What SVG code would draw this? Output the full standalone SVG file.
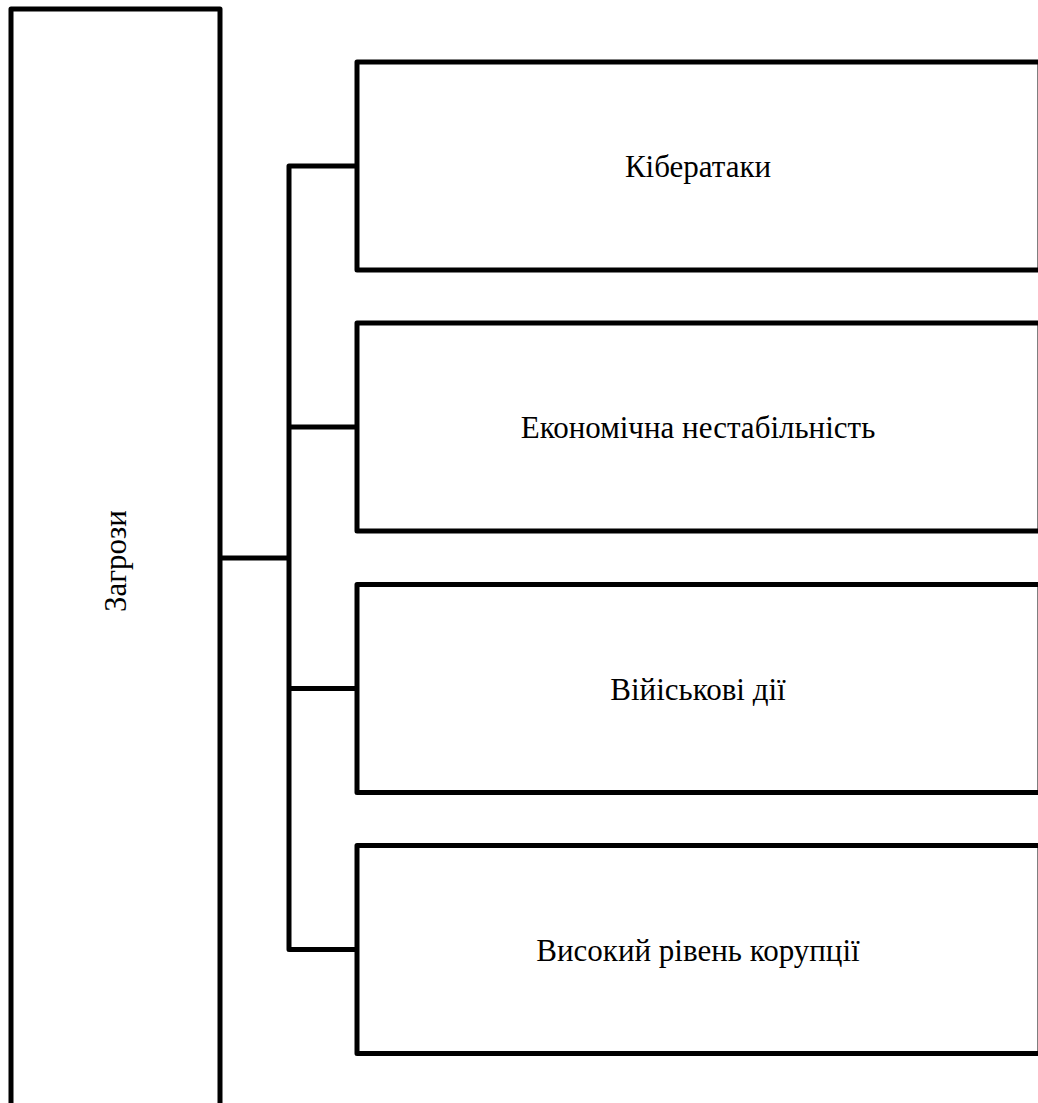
<svg xmlns="http://www.w3.org/2000/svg" width="1038" height="1103" viewBox="0 0 1038 1103">
<style>
.box{fill:#fff;stroke:#000;stroke-width:5;stroke-linejoin:round}
.conn{fill:none;stroke:#000;stroke-width:5;stroke-linejoin:round;stroke-linecap:butt}
.t{font-family:"Liberation Serif","Times New Roman",serif;font-size:31px;fill:#000;text-anchor:middle}
</style>
<rect x="0" y="0" width="1038" height="1103" fill="#fff"/>
<g id="node-zagrozy">
<rect class="box" x="11" y="9" width="209" height="1104"/>
<text class="t" transform="translate(126,561) rotate(-90)" x="0" y="0">Загрози</text>
</g>
<g id="connectors">
<path class="conn" d="M220,558 H289"/>
<path class="conn" d="M357,166 H289 V949.5 H357"/>
<path class="conn" d="M289,427 H357"/>
<path class="conn" d="M289,688.5 H357"/>
</g>
<g id="node-kiberataky">
<rect class="box" x="357" y="62" width="683" height="208"/>
<text class="t" x="698" y="177">Кібератаки</text>
</g>
<g id="node-ekonomichna">
<rect class="box" x="357" y="323" width="683" height="208"/>
<text class="t" x="698" y="438">Економічна нестабільність</text>
</g>
<g id="node-viiskovi">
<rect class="box" x="357" y="584.5" width="683" height="208"/>
<text class="t" x="698" y="699.5">Війіськові дії</text>
</g>
<g id="node-korupciya">
<rect class="box" x="357" y="845.5" width="683" height="208"/>
<text class="t" x="698" y="960.5">Високий рівень корупції</text>
</g>
</svg>
